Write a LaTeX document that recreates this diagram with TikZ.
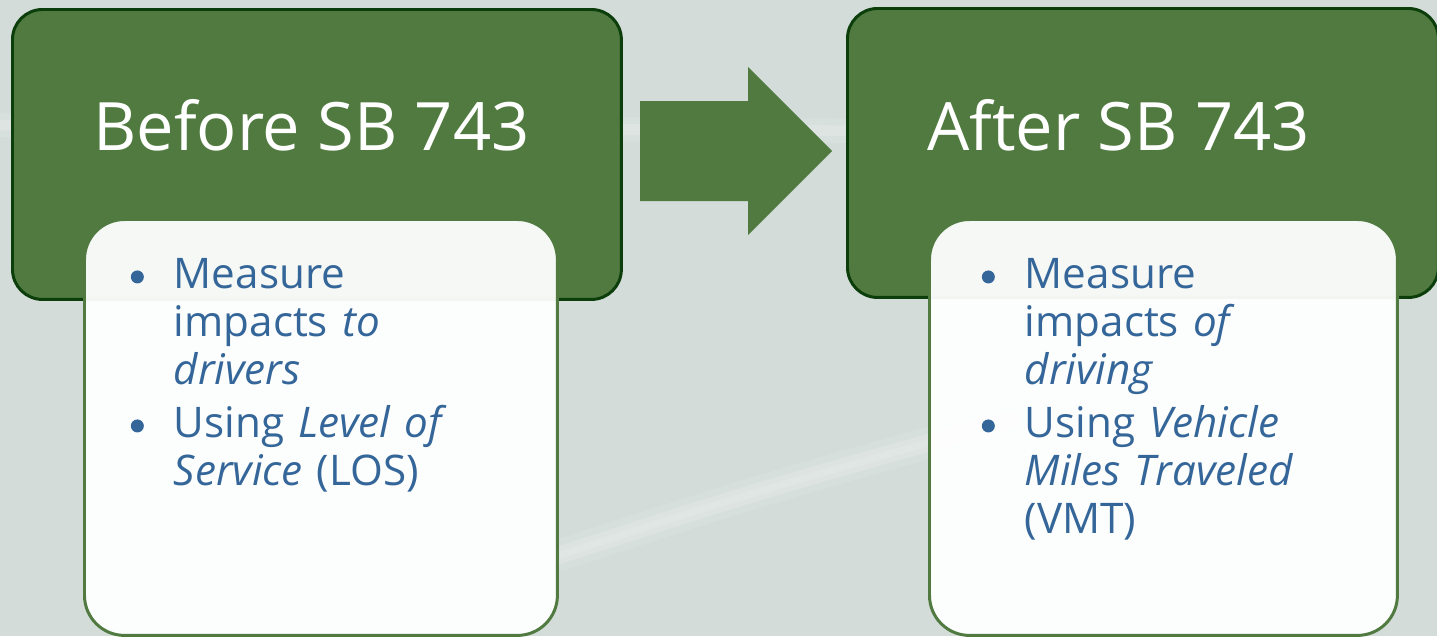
\documentclass[tikz,border=0pt]{standalone}
\usepackage{fontspec}
\setmainfont{Open Sans}
\usetikzlibrary{positioning}
\definecolor{bgGrey}{RGB}{211,220,216}
\definecolor{streak}{RGB}{234,238,236}
\definecolor{boxGreen}{RGB}{80,122,63}
\definecolor{edgeGreen}{RGB}{12,62,12}
\definecolor{textBlue}{RGB}{52,102,153}
\tikzset{
    stage/.style={rectangle, draw=edgeGreen, line width=1.7pt, fill=boxGreen, rounded corners=0.6cm, anchor=north west, inner sep=0},
    listbox/.style={rectangle, draw=boxGreen, line width=1.7pt, fill=white, fill opacity=0.95, draw opacity=1, rounded corners=0.8cm, anchor=north west, inner sep=0},
    heading/.style={text=white, font=\fontsize{38}{46}\selectfont, anchor=base west, inner sep=0},
    points/.style={text=textBlue, font=\fontsize{24}{27.6}\selectfont, text width=8.2cm, anchor=base west, inner sep=0},
    bigarrow/.style={fill=boxGreen}
}
\newcommand{\dotmark}{\tikz[baseline=-6.3pt]\fill (0.13cm,0) circle (0.13cm);}
\newcommand{\pointitem}[1]{\makebox[0.86cm][l]{\dotmark}\parbox[t]{7.3cm}{\raggedright #1}}

\begin{document}
\begin{tikzpicture}[x=0.02cm, y=-0.02cm]
    % Background
    \fill[bgGrey] (0,0) rectangle (1437,636);
    \useasboundingbox (0,0) rectangle (1437,636);
    \foreach \w/\o in {18/0.2, 10/0.3, 4/0.35}
        \draw[streak, line width=\w pt, opacity=\o, line cap=round] (560,555) .. controls (760,490) .. (1010,420);
    \foreach \w/\o in {14/0.25, 6/0.35}
        \draw[streak, line width=\w pt, opacity=\o, line cap=round] (0,125) -- (1437,135);

    % Before
    \node (before) [stage, minimum width=12.18cm, minimum height=5.8cm] at (11,8) {};
    \node (before_title) [heading] at (93,150) {Before SB 743};
    \node (before_list) [listbox, minimum width=9.46cm, minimum height=8.32cm] at (83,218) {};
    \node (before_p1) [points] at (130.5,288) {\pointitem{Measure\\ impacts \textit{to}\\ \textit{drivers}}};
    \node (before_p2) [points] at (130.5,437) {\pointitem{Using \textit{Level of}\\ \textit{Service} (LOS)}};

    % Arrow
    \fill[bigarrow] (640,101) -- (748,101) -- (748,67) -- (832,151) -- (748,235) -- (748,201) -- (640,201) -- cycle;

    % After
    \node (after) [stage, minimum width=11.82cm, minimum height=5.78cm] at (846,7) {};
    \node (after_title) [heading] at (927,150) {After SB 743};
    \node (after_list) [listbox, minimum width=9.36cm, minimum height=8.32cm] at (928,218) {};
    \node (after_p1) [points] at (981.5,288) {\pointitem{Measure\\ impacts \textit{of}\\ \textit{driving}}};
    \node (after_p2) [points] at (981.5,437) {\pointitem{Using \textit{Vehicle}\\ \textit{Miles Traveled}\\ (VMT)}};
\end{tikzpicture}
\end{document}
